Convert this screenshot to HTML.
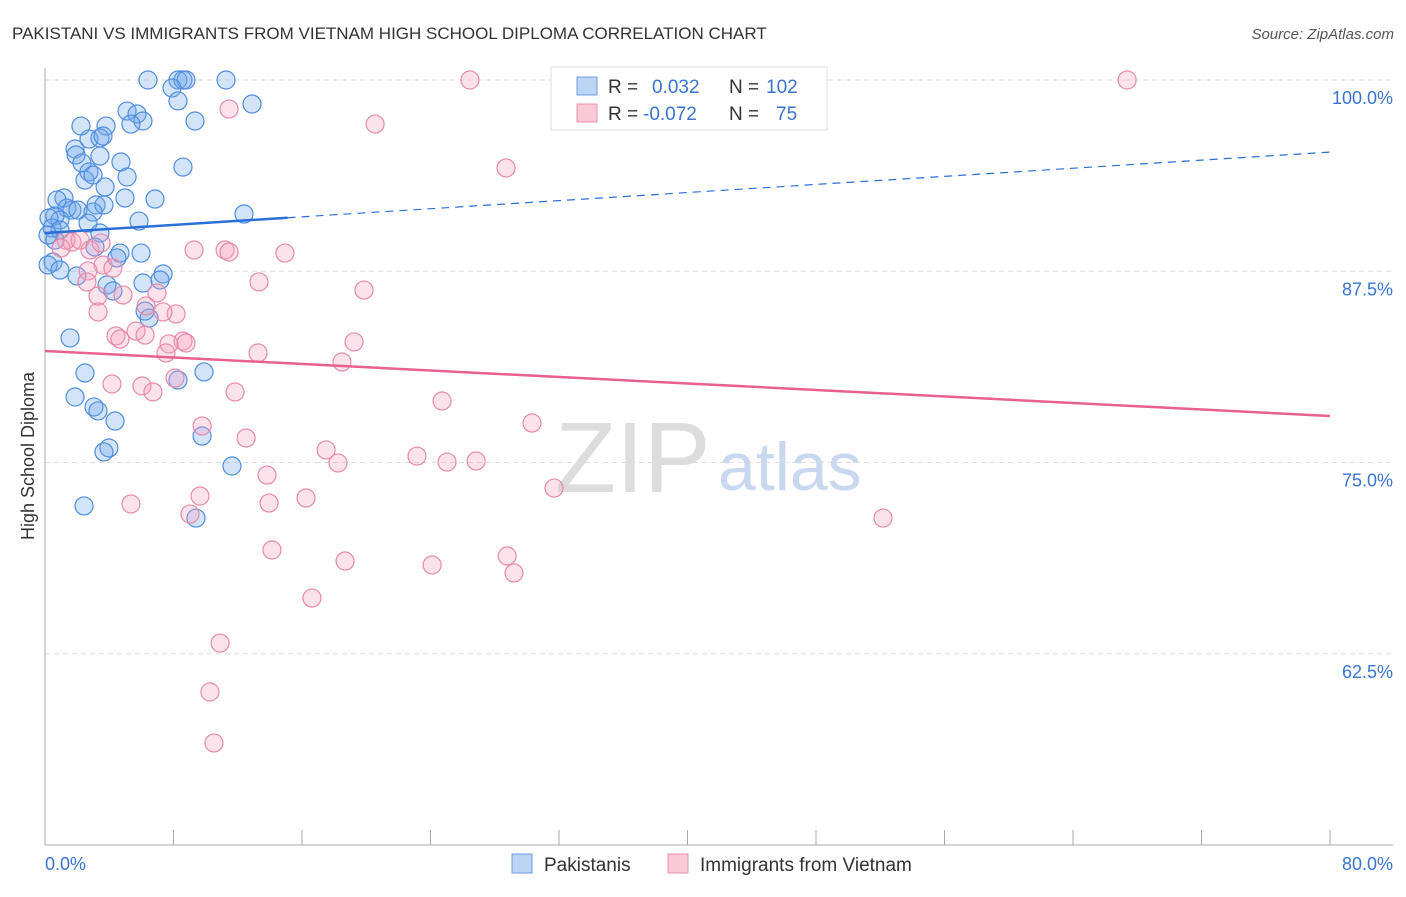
<!DOCTYPE html>
<html><head><meta charset="utf-8"><style>
body{margin:0;background:#fff;font-family:"Liberation Sans",sans-serif;}
svg text{font-family:"Liberation Sans",sans-serif;}
</style></head><body>
<svg id="c" width="1406" height="892">
<text x="12" y="39" font-size="17" fill="#333">PAKISTANI VS IMMIGRANTS FROM VIETNAM HIGH SCHOOL DIPLOMA CORRELATION CHART</text>
<text x="1394" y="39" font-size="15" fill="#555" font-style="italic" text-anchor="end">Source: ZipAtlas.com</text>
<text x="555" y="492" font-size="100" fill="#ddd" font-family="Liberation Serif">ZIP</text>
<text x="718" y="490" font-size="68" fill="#c8d8ee">atlas</text>
<text transform="translate(34,456) rotate(-90)" font-size="18" fill="#333" text-anchor="middle">High School Diploma</text>
<g id="grid"></g><g id="pts"></g><g id="lines"></g>
<g>
<rect x="551" y="67" width="276" height="63" fill="#fff" stroke="#ddd"/>
<rect x="577" y="77" width="20" height="18" fill="#bcd4f4" stroke="#6b9be0"/>
<rect x="577" y="104" width="20" height="18" fill="#f9c9d8" stroke="#e891ad"/>
<text x="608" y="93" font-size="19" fill="#333">R =</text><text x="652" y="93" font-size="19" fill="#3a74d0">0.032</text>
<text x="729" y="93" font-size="19" fill="#333">N =</text><text x="766" y="93" font-size="19" fill="#3a74d0">102</text>
<text x="608" y="120" font-size="19" fill="#333">R =</text><text x="643" y="120" font-size="19" fill="#3a74d0">-0.072</text>
<text x="729" y="120" font-size="19" fill="#333">N =</text><text x="776" y="120" font-size="19" fill="#3a74d0">75</text>
</g>
<g>
<rect x="512" y="854" width="20" height="19" fill="#bcd4f4" stroke="#6b9be0"/>
<text x="544" y="871" font-size="19" fill="#333">Pakistanis</text>
<rect x="668" y="854" width="20" height="19" fill="#f9c9d8" stroke="#e891ad"/>
<text x="700" y="871" font-size="19" fill="#333">Immigrants from Vietnam</text>
</g>
<text x="45" y="870" font-size="18" fill="#3a74d0">0.0%</text>
<text x="1393" y="870" font-size="18" fill="#3a74d0" text-anchor="end">80.0%</text>
</svg>
<script>
const yTicks=[100,87.5,75,62.5];
const yTickLabels=["100.0%","87.5%","75.0%","62.5%"];
const blueX=[6.41,8.28,8.59,8.78,11.27,7.91,8.28,12.89,5.11,5.73,6.10,9.34,2.24,3.80,5.35,2.74,3.42,3.61,1.87,1.93,3.42,4.73,2.30,2.74,8.59,2.49,2.99,5.11,3.74,1.18,0.75,4.98,6.85,3.18,3.67,1.37,1.68,2.05,2.99,12.39,5.85,0.62,0.93,2.68,0.25,0.44,0.93,3.42,3.11,0.62,0.19,4.67,5.98,4.48,0.50,0.19,0.93,1.99,3.86,4.23,6.10,7.35,7.16,6.23,6.48,1.56,2.49,9.90,8.28,1.87,3.05,3.30,4.36,3.98,3.67,9.78,11.64,2.43,9.40];
const blueY=[100,100,100,100,100,99.48,98.63,98.43,97.97,97.78,97.32,97.32,96.99,96.99,97.12,96.14,96.21,96.34,95.49,95.10,95.03,94.64,94.58,93.99,94.31,93.46,93.79,93.66,93.01,92.29,92.16,92.29,92.22,91.83,91.83,91.63,91.50,91.50,91.37,91.24,90.78,91.11,90.85,90.65,90.98,90.33,90.20,90.0,89.08,89.54,89.87,88.69,88.69,88.37,88.10,87.91,87.58,87.19,86.60,86.21,86.73,87.32,86.93,84.90,84.44,83.14,80.85,80.92,80.39,79.28,78.63,78.37,77.71,75.95,75.69,76.73,74.77,72.16,71.37];
const pinkX=[26.46,43.15,67.37,11.46,20.55,28.70,1.31,1.68,1.00,2.18,2.80,3.49,9.28,11.21,11.46,14.94,3.61,2.68,4.23,13.32,19.86,2.61,3.30,4.86,6.97,3.30,6.29,8.16,7.35,4.42,4.67,5.67,6.23,7.72,8.59,8.78,7.53,13.26,19.24,18.49,4.17,6.04,6.72,8.09,11.83,24.72,9.78,12.52,30.32,17.50,18.24,23.16,25.03,26.84,13.82,31.69,9.65,5.35,9.03,13.95,16.25,52.17,14.13,28.77,18.68,24.10,29.20,16.62,10.90,10.27,10.52];
const pinkY=[100,100,100,98.10,97.12,94.25,89.54,89.41,89.02,89.54,88.89,89.35,88.89,88.89,88.76,88.69,87.91,87.52,87.71,86.80,86.27,86.80,85.88,85.95,86.08,84.84,85.23,84.71,84.84,83.27,83.07,83.59,83.33,82.75,82.94,82.81,82.16,82.16,82.88,81.57,80.13,80.00,79.61,80.52,79.61,79.02,77.39,76.60,77.58,75.82,74.97,75.42,75.03,75.10,74.18,73.33,72.81,72.29,71.63,72.35,72.68,71.37,69.28,68.89,68.56,68.30,67.78,66.14,63.20,60.00,56.67];
const blueTrend=[90.0,95.29]; const blueSolidEnd=15.1;
const pinkTrend=[82.29,78.04];
const NS='http://www.w3.org/2000/svg';
const X=v=>45+v*16.0625, Y=v=>80+(100-v)*15.3;
function mk(t,a,p){const e=document.createElementNS(NS,t);for(const k in a)e.setAttribute(k,a[k]);p.appendChild(e);return e;}
const g=document.getElementById('grid');
yTicks.forEach((t,i)=>{
 const l=mk('line',{x1:45,x2:1393,y1:Y(t),y2:Y(t),stroke:'#ddd','stroke-dasharray':'5,4'},g);
 
 
 const tx=mk('text',{x:1393,y:Y(t)+24,'font-size':18,fill:'#3a74d0','text-anchor':'end'},g);
 tx.textContent=yTickLabels[i];
 
 
});
mk('line',{x1:45,x2:45,y1:68,y2:845,stroke:'#aaa'},g);
mk('line',{x1:45,x2:1393,y1:845,y2:845,stroke:'#aaa'},g);
for(let i=1;i<=10;i++){const x=45+i*128.5;const t=mk('line',{x1:x,x2:x,y1:830,y2:845,stroke:'#aaa'},g);}
const p=document.getElementById('pts');
blueX.forEach((v,i)=>{const c=mk('circle',{cx:X(v),cy:Y(blueY[i]),r:9,fill:'rgba(110,165,235,0.3)',stroke:'#4f8ddf','stroke-width':1.2},p);
 
 });
pinkX.forEach((v,i)=>{const c=mk('circle',{cx:X(v),cy:Y(pinkY[i]),r:9,fill:'rgba(245,160,190,0.3)',stroke:'#e88aa8','stroke-width':1.2},p);
 
 });
const L=document.getElementById('lines');
const by=x=>blueTrend[0]+(blueTrend[1]-blueTrend[0])*x/80;
const b1=mk('line',{x1:X(0),y1:Y(by(0)),x2:X(blueSolidEnd),y2:Y(by(blueSolidEnd)),stroke:'#2a6fd6','stroke-width':2.5},L);


const b2=mk('line',{x1:X(blueSolidEnd),y1:Y(by(blueSolidEnd)),x2:X(80),y2:Y(by(80)),stroke:'#2a6fd6','stroke-width':1.2,'stroke-dasharray':'8,6'},L);


const pl=mk('line',{x1:X(0),y1:Y(pinkTrend[0]),x2:X(80),y2:Y(pinkTrend[1]),stroke:'#e8608c','stroke-width':2.5},L);


</script>
</body></html>
